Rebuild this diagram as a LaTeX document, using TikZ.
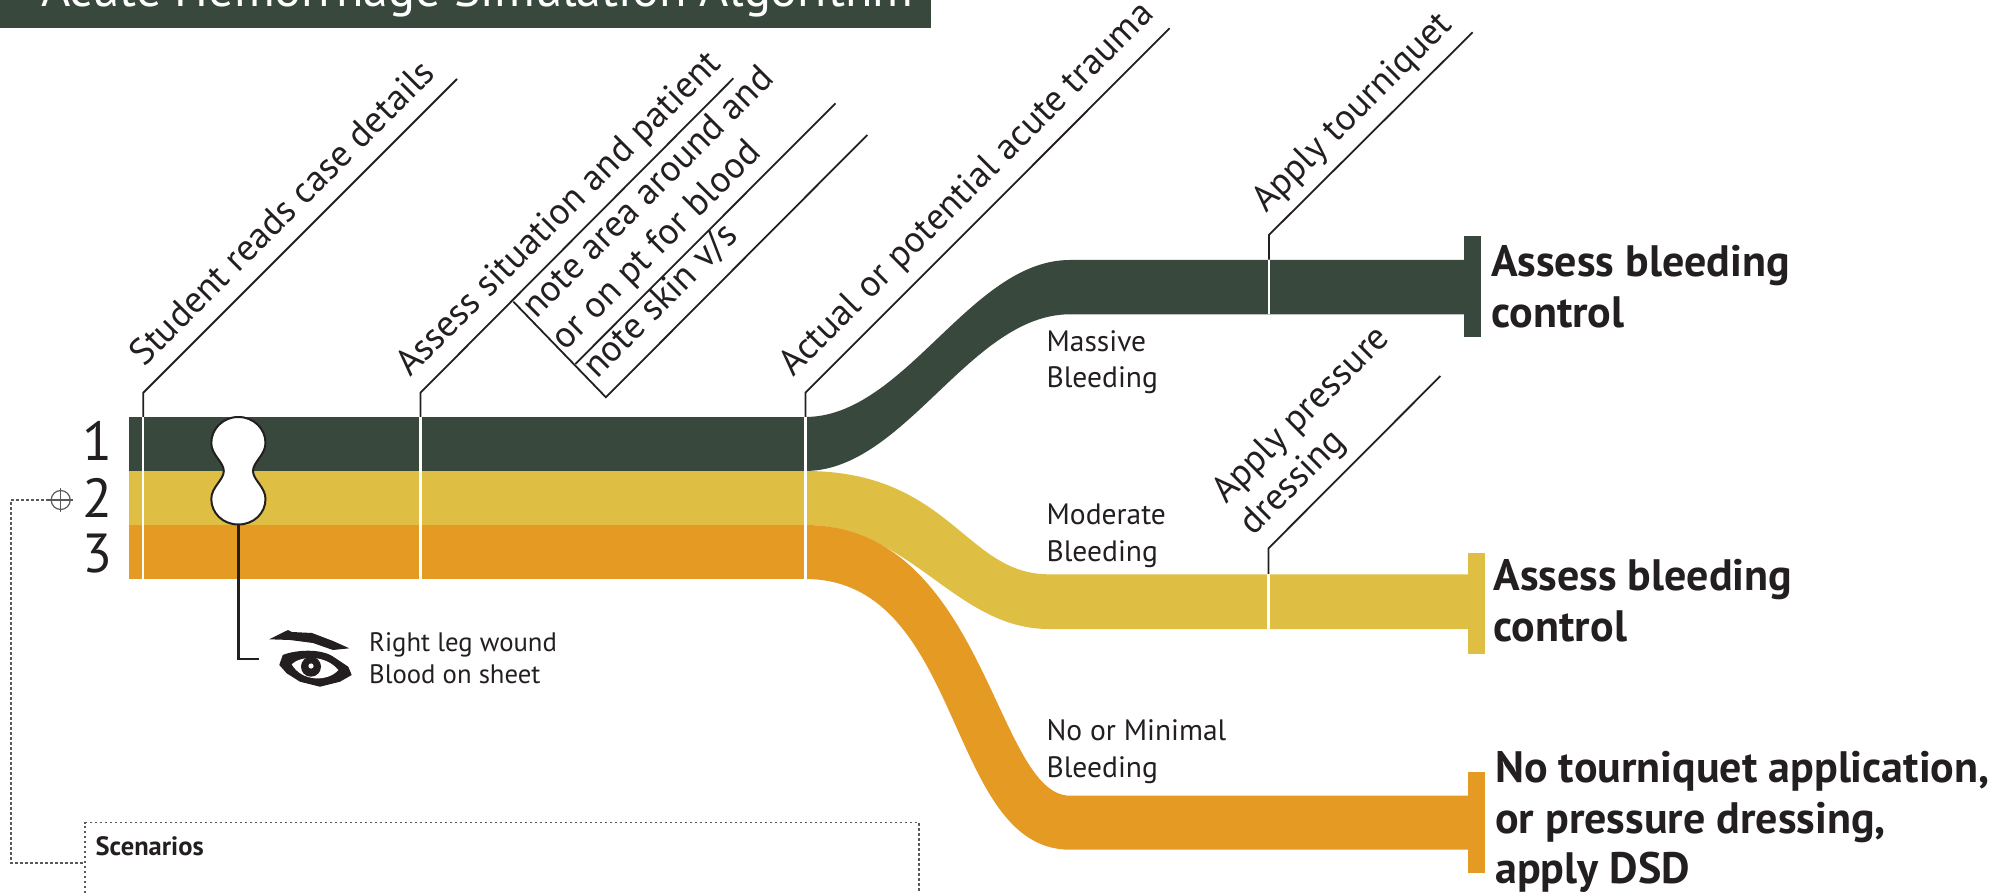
\documentclass[tikz,border=0pt]{standalone}
\usepackage{fontspec}
\usepackage{xcolor}
\setmainfont{PT Sans}
\usetikzlibrary{positioning}

\definecolor{bandone}{HTML}{38483D}
\definecolor{bandtwo}{HTML}{DFBF43}
\definecolor{bandthree}{HTML}{E59A23}
\definecolor{inkblack}{HTML}{231F20}
\definecolor{dashgray}{HTML}{58595B}

\tikzset{
    lean/.style={rotate=45, anchor=base west, inner sep=0pt, text=inkblack, font=\fontsize{37}{37}\selectfont},
    leader/.style={draw=inkblack, line width=1.8pt},
    cut/.style={draw=white, line width=2.2pt},
    small/.style={anchor=base west, inner sep=0pt, text=inkblack, font=\fontsize{26.7}{27}\selectfont},
    branch/.style={anchor=base west, inner sep=0pt, text=inkblack, font=\fontsize{29.5}{30}\selectfont},
    outcome/.style={anchor=base west, inner sep=0pt, text=inkblack, font=\bfseries\fontsize{44}{44}\selectfont},
    digit/.style={inner sep=0pt, text=inkblack, font=\fontsize{55}{55}\selectfont},
    scen/.style={draw=dashgray, line width=1.2pt, dash pattern=on 2.5pt off 2.5pt},
}

\begin{document}
\begin{tikzpicture}[x=1pt, y=-1pt]
        \useasboundingbox (0,0) rectangle (2011,893);

        \fill[bandone] (0,-5) rectangle (931,27.7);
        \node[anchor=base west, inner sep=0pt, text=white, font=\fontsize{50.2}{50}\selectfont] (title) at (41,7) {Acute Hemorrhage Simulation Algorithm};

        % bands
        \fill[bandone] (128.5,417) rectangle (805.5,471.3);
        \fill[bandtwo] (128.5,471) rectangle (805.5,525.3);
        \fill[bandthree] (128.5,525) rectangle (805.5,579);

        \fill[bandone] (805,417) .. controls (905,417) and (970,260) .. (1070,260)
            -- (1465,260) -- (1465,314.3) -- (1070,314.3)
            .. controls (970,314.3) and (905,471) .. (805,471) -- cycle;
        \fill[bandone] (1464,235.7) rectangle (1481,336.7);

        \fill[bandtwo] (805,471) .. controls (950,471) and (965,574.3) .. (1048.6,574.3)
            -- (1470,574.3) -- (1470,629) -- (1048.6,629)
            .. controls (955,629) and (910,525) .. (805,525) -- cycle;
        \fill[bandtwo] (1468,553) rectangle (1485,653.7);

        \fill[bandthree] (805,525) .. controls (985,525) and (995,795.7) .. (1070,795.7)
            -- (1470,795.7) -- (1470,849.7) -- (1070,849.7)
            .. controls (945,849.7) and (965,579) .. (805,579) -- cycle;
        \fill[bandthree] (1468,772) rectangle (1485,872.7);

        % leaders
        \coordinate (readfoot) at (143.3,417);
        \coordinate (readkink) at (143.3,392.7);
        \coordinate (readtip) at (457,79);
        \coordinate (sitefoot) at (420.5,417);
        \coordinate (sitekink) at (420.5,392.7);
        \coordinate (sitetip) at (733.4,78.3);
        \coordinate (traumafoot) at (805.5,417);
        \coordinate (traumakink) at (805.5,392.7);
        \coordinate (traumatip) at (1169.6,28.3);
        \coordinate (tourfoot) at (1268.9,259.7);
        \coordinate (tourkink) at (1268.9,235);
        \coordinate (tourtip) at (1472.6,32.3);
        \coordinate (dressfoot) at (1268.5,574.3);
        \coordinate (dresskink) at (1268.5,548.3);
        \coordinate (dresstip) at (1440.4,376);
        \coordinate (forkjoin) at (513.4,301.7);
        \coordinate (forkmid) at (575.3,364);
        \coordinate (forkapex) at (605.9,397.3);
        \coordinate (midtip) at (835.5,103.3);
        \coordinate (apextip) at (867.3,135);

        \draw[leader] (readfoot) -- (readkink) -- (readtip);
        \draw[leader] (sitefoot) -- (sitekink) -- (sitetip);
        \draw[leader] (traumafoot) -- (traumakink) -- (traumatip);
        \draw[leader] (tourfoot) -- (tourkink) -- (tourtip);
        \draw[leader] (dressfoot) -- (dresskink) -- (dresstip);
        \draw[leader] (forkjoin) -- (forkapex) -- (apextip);
        \draw[leader] (forkmid) -- (midtip);

        \draw[cut] (143.3,417) -- (143.3,579);
        \draw[cut] (420.5,417) -- (420.5,579);
        \draw[cut] (805.5,417) -- (805.5,579);
        \draw[cut] (1268.9,259.7) -- (1268.9,314.3);
        \draw[cut] (1268.5,574.3) -- (1268.5,629);

        \node[lean] (read) at (144,368) {Student reads case details};
        \node[lean] (site) at (410,378) {Assess situation and patient};
        \node[lean] (area) at (536,320) {note area around and};
        \node[lean] (onpt) at (565,352) {or on pt for blood};
        \node[lean] (skin) at (597,380) {note skin v/s};
        \node[lean] (trauma) at (793,378) {Actual or potential acute trauma};
        \node[lean] (tour) at (1266,214) {Apply tourniquet};
        \node[lean] (press) at (1226,505) {Apply pressure};
        \node[lean] (dress) at (1253,537) {dressing};

        % numbers
        \node[digit] (one) at (97,441) {1};
        \node[digit] (two) at (97,498) {2};
        \node[digit] (three) at (97,554) {3};

        % pin
        \coordinate (blobtop) at (238.4,417);
        \coordinate (blobfoot) at (238.4,524.5);
        \coordinate (stemend) at (259,659.3);
        \draw[draw=inkblack, fill=white, line width=2pt] (blobtop)
            .. controls (254,417) and (265.5,429) .. (265.5,443)
            .. controls (265.5,455) and (253,462) .. (253,471)
            .. controls (253,480) and (265.5,487) .. (265.5,499)
            .. controls (265.5,513) and (254,524.5) .. (blobfoot)
            .. controls (222.8,524.5) and (211.3,513) .. (211.3,499)
            .. controls (211.3,487) and (223.8,480) .. (223.8,471)
            .. controls (223.8,462) and (211.3,455) .. (211.3,443)
            .. controls (211.3,429) and (222.8,417) .. (blobtop) -- cycle;
        \draw[draw=inkblack, line width=2.2pt] (blobfoot) |- (stemend);

        % eye
        \fill[inkblack] (269.3,639.3) -- (288,630) -- (292,632) -- (312,633) -- (333,641)
            -- (349.3,648.3) -- (333,650) -- (313,643) -- (290,640) -- cycle;
        \fill[inkblack] (279.3,665) -- (282.7,655) .. controls (295,650) and (320,648) .. (333.3,656.7)
            -- (348.3,666.7) -- (351.7,675) -- (340,681.7) -- (320,686.7) -- (300,681.7) -- (286.7,673.3) -- cycle;
        \fill[white] (291.7,664.3) .. controls (300,656) and (325,654) .. (338.3,670)
            .. controls (328,682) and (302,682) .. (291.7,664.3) -- cycle;
        \fill[inkblack] (311,666.7) circle (10);
        \fill[white] (311,666) circle (2.6);

        \node[small] (wound) at (369,651) {Right leg wound};
        \node[small] (sheet) at (369,683.5) {Blood on sheet};

        \node[branch] (massive) at (1046.4,351.5) {Massive};
        \node[branch] (massiveb) at (1046.4,388) {Bleeding};
        \node[branch] (moderate) at (1046.4,524) {Moderate};
        \node[branch] (moderateb) at (1046.4,561.5) {Bleeding};
        \node[branch] (minimal) at (1046.4,740) {No or Minimal};
        \node[branch] (minimalb) at (1046.4,777.5) {Bleeding};

        \node[outcome] (assessa) at (1491,277) {Assess bleeding};
        \node[outcome] (assessb) at (1491,327) {control};
        \node[outcome] (assessc) at (1493.4,590) {Assess bleeding};
        \node[outcome] (assessd) at (1493.4,641) {control};
        \node[outcome] (notour) at (1495,782.7) {No tourniquet application,};
        \node[outcome] (nopress) at (1495,833.7) {or pressure dressing,};
        \node[outcome] (dsd) at (1495,883.7) {apply DSD};

        % scenarios link
        \node[circle, draw=dashgray, line width=1.2pt, minimum size=19pt, inner sep=0pt] (target) at (60.7,500) {};
        \draw[draw=dashgray, line width=1.2pt]
            (48.7,500) -- (73,500)
            (60.7,488) -- (60.7,512);
        \coordinate (targetleft) at (48.7,500);
        \coordinate (hook) at (85,863);
        \coordinate (boxnw) at (85,822.7);
        \coordinate (boxne) at (919,822.7);
        \coordinate (boxsw) at (85,893);
        \coordinate (boxse) at (919,893);
        \draw[scen] (targetleft) -- (11,500) |- (hook);
        \draw[scen] (boxsw) -- (boxnw) -- (boxne) -- (boxse);
        \node[anchor=base west, inner sep=0pt, text=inkblack, font=\bfseries\fontsize{26.5}{27}\selectfont] (scenarios) at (95.5,855) {Scenarios};
\end{tikzpicture}
\end{document}
